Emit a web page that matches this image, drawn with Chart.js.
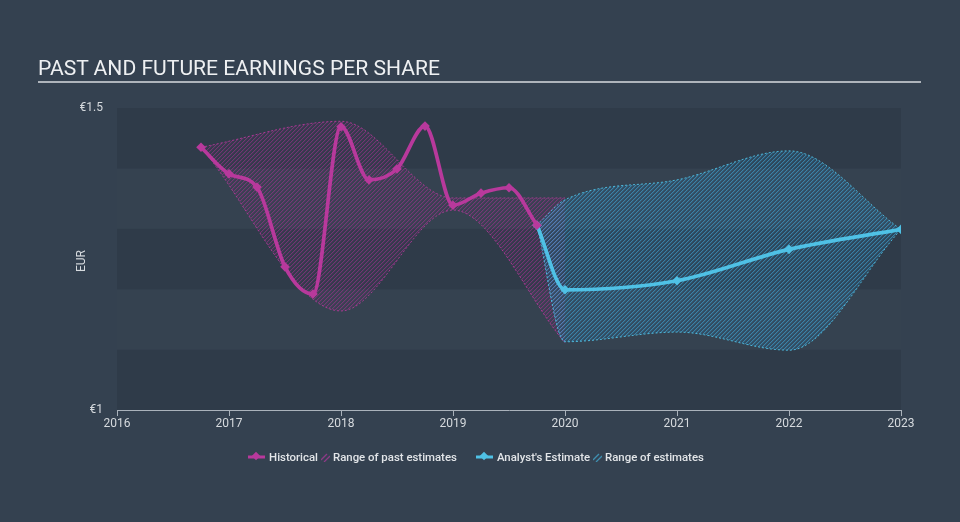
<!DOCTYPE html>
<html><head><meta charset="utf-8">
<script src="https://cdn.jsdelivr.net/npm/chart.js@4"></script>
<style>
html,body{margin:0;padding:0;background:#344150;width:960px;height:522px;overflow:hidden;font-family:Roboto,"DejaVu Sans",sans-serif}
#wrap{position:relative;width:960px;height:522px}
#c{position:absolute;left:0;top:0}
#title{position:absolute;left:38px;top:55px;font-size:21.1px;color:#eef0f2;white-space:nowrap;line-height:26px}
#rule{position:absolute;left:38px;top:81px;width:883px;height:2px;background:#aeb4bb}
#eur{position:absolute;left:81px;top:261px;transform:translate(-50%,-50%) rotate(-90deg);font-size:12px;color:#d6dade}
#legend{position:absolute;top:448px;left:-4px;width:960px;display:flex;justify-content:center;align-items:center;font-size:11.4px;font-weight:500;color:#e2e5e8;height:18px}
#legend span{white-space:nowrap}
#legend svg{display:block}
.gap{width:19px}
</style></head>
<body><div id="wrap">
<canvas id="c" width="960" height="522"></canvas>
<div id="title">PAST AND FUTURE EARNINGS PER SHARE</div>
<div id="rule"></div>
<div id="eur">EUR</div>
<div id="legend">
 <svg width="17" height="12"><line x1="0" y1="6" x2="17" y2="6" stroke="#b8399c" stroke-width="3"/><rect x="5" y="2" width="6" height="6" transform="rotate(45 8 5)" fill="#b8399c"/></svg>
 <span style="margin-left:4px">Historical</span>
 <svg width="9" height="10" style="margin:0 3px"><line x1="0" y1="8" x2="6" y2="2" stroke="#8c3a86" stroke-width="1.3"/><line x1="3" y1="10" x2="9" y2="4" stroke="#8c3a86" stroke-width="1.3"/></svg>
 <span>Range of past estimates</span>
 <div class="gap"></div>
 <svg width="17" height="12"><line x1="0" y1="6" x2="17" y2="6" stroke="#4fc1e5" stroke-width="3"/><rect x="5" y="2" width="6" height="6" transform="rotate(45 8 5)" fill="#4fc1e5"/></svg>
 <span style="margin-left:4px">Analyst's Estimate</span>
 <svg width="9" height="10" style="margin:0 3px"><line x1="0" y1="8" x2="6" y2="2" stroke="#3f8fb0" stroke-width="1.3"/><line x1="3" y1="10" x2="9" y2="4" stroke="#3f8fb0" stroke-width="1.3"/></svg>
 <span>Range of estimates</span>
</div>
</div>
<script>
// ---- data ----
const histX   = [2016.75, 2017, 2017.25, 2017.5, 2017.75, 2018, 2018.25, 2018.5, 2018.75, 2019, 2019.25, 2019.5, 2019.75];
const histEPS = [1.435, 1.391, 1.369, 1.237, 1.192, 1.469, 1.381, 1.399, 1.470, 1.339, 1.359, 1.368, 1.306];
const estX    = [2019.75, 2020, 2021, 2022, 2023];
const estEPS  = [1.306, 1.199, 1.214, 1.266, 1.299];
const pastRangeX    = [2016.75, 2018, 2019, 2020];
const pastRangeHigh = [1.435, 1.478, 1.351, 1.351];
const pastRangeLow  = [1.435, 1.164, 1.331, 1.111];
const futRangeX    = [2019.75, 2020, 2021, 2022, 2023];
const futRangeHigh = [1.306, 1.348, 1.381, 1.429, 1.299];
const futRangeLow  = [1.306, 1.113, 1.129, 1.099, 1.299];
const xTickYears = [2016, 2017, 2018, 2019, 2020, 2021, 2022, 2023];
const yTickValues = [1, 1.5];
const yTickLabels = ['€1', '€1.5'];

const MAG = '#b8399c', CYAN = '#4fc1e5';

function pts(xs, ys){ return xs.map((x,i)=>({x:x, y:ys[i]})); }

// crisp pixel hatch "/" pattern
function hatch(rgb, aLine, aHalf, bgRgb, aBg){
  const s = 4, c = document.createElement('canvas');
  c.width = s; c.height = s;
  const g = c.getContext('2d');
  const img = g.createImageData(s, s);
  for (let y=0;y<s;y++) for (let x=0;x<s;x++){
    const k = (x+y)%s, i = (y*s+x)*4;
    let col = bgRgb, a = aBg;
    if (k===0){ col = rgb; a = aLine; }
    else if (k===1){ col = rgb; a = aHalf; }
    img.data[i]=col[0]; img.data[i+1]=col[1]; img.data[i+2]=col[2]; img.data[i+3]=Math.round(a*255);
  }
  g.putImageData(img,0,0);
  return g.createPattern(c, 'repeat');
}
const ctx = document.getElementById('c').getContext('2d');
const magHatch = hatch([170,50,150], 0.55, 0.18, [150,40,140], 0.05);
const cyanHatch = hatch([60,165,215], 0.65, 0.28, [40,120,170], 0.2);

const bands = {
  id:'bands',
  beforeDraw(chart){
    const {ctx, chartArea:a, scales:{y}} = chart;
    ctx.save();
    for (let i=0;i<5;i++){
      const lo = 1 + i*0.1, hi = lo + 0.1;
      const t = y.getPixelForValue(hi), b = y.getPixelForValue(lo);
      ctx.fillStyle = (i%2===0) ? '#2f3b49' : '#354250';
      ctx.fillRect(a.left, t, a.right-a.left, b-t);
    }
    ctx.restore();
  }
};

const rangeDs = (data, color, fill, bg, order) => ({
  data, borderColor: color, borderWidth: 1, borderDash: [2,2],
  pointRadius: 0, fill, backgroundColor: bg,
  cubicInterpolationMode: 'monotone', order
});
const lineDs = (data, color, order) => ({
  data, borderColor: color, backgroundColor: color, borderWidth: 3.7,
  pointStyle: 'rectRot', pointRadius: 4.8, pointBorderWidth: 0,
  pointBackgroundColor: color, fill: false,
  cubicInterpolationMode: 'monotone', order
});

new Chart(ctx, {
  type: 'line',
  data: { datasets: [
    rangeDs(pts(pastRangeX, pastRangeHigh), 'rgba(184,57,156,0.85)', '+1', magHatch, 5),
    rangeDs(pts(pastRangeX, pastRangeLow),  'rgba(184,57,156,0.85)', false, magHatch, 4),
    rangeDs(pts(futRangeX, futRangeHigh), 'rgba(79,193,229,0.9)', '+1', cyanHatch, 3),
    rangeDs(pts(futRangeX, futRangeLow),  'rgba(79,193,229,0.9)', false, cyanHatch, 2),
    lineDs(pts(histX, histEPS), MAG, 0),
    lineDs(pts(estX, estEPS), CYAN, 1)
  ]},
  options: {
    responsive: false, animation: false,
    layout: { padding: { left: 0, top: 108, right: 59, bottom: 82 } },
    plugins: { legend: { display: false }, tooltip: { enabled: false } },
    scales: {
      x: {
        type: 'linear', min: xTickYears[0], max: xTickYears[xTickYears.length-1],
        afterFit: s => { s.height = 30; },
        afterBuildTicks: s => { s.ticks = xTickYears.map(v => ({value: v})); },
        ticks: { color: '#d6dade', font: { family: 'Roboto', size: 12 }, padding: 1,
                 callback: v => String(v), maxRotation: 0 },
        grid: { drawOnChartArea: false, drawTicks: true, tickLength: 6, color: '#aab2bb' },
        border: { display: true, color: '#aab2bb', width: 1 }
      },
      y: {
        min: 1, max: 1.5,
        afterFit: s => { s.width = 117; },
        afterBuildTicks: s => { s.ticks = yTickValues.map(v => ({value: v})); },
        ticks: { color: '#d6dade', font: { family: 'Roboto', size: 12 }, padding: 14,
                 callback: v => yTickLabels[yTickValues.indexOf(v)] },
        grid: { display: false, drawTicks: false },
        border: { display: false }
      }
    }
  },
  plugins: [bands]
});
</script>
</body></html>
